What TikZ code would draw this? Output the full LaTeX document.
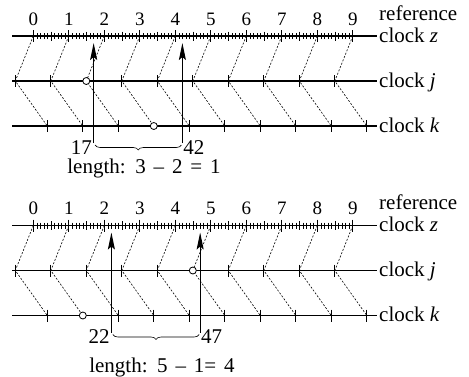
\documentclass[tikz,border=0pt]{standalone}
\usepackage{fontspec}
\setmainfont{Liberation Serif}
\newfontfamily\lenfont[WordSpace=1.5]{Liberation Serif}
\usetikzlibrary{arrows.meta,decorations.pathreplacing}
\tikzset{
  axis/.style={line width=1.1pt},
  majtick/.style={line width=1.1pt},
  mintick/.style={line width=0.6pt},
  guide/.style={line width=0.6pt, dash pattern=on 2pt off 1.6pt},
  readarrow/.style={line width=1.1pt, -{Stealth[length=17pt,width=7pt,inset=3pt]}},
  bracestyle/.style={line width=0.6pt, decorate, decoration={brace, mirror, amplitude=5pt}},
  lab/.style={inner sep=0pt, font=\fontsize{21}{24}\selectfont},
  lenlab/.style={inner sep=0pt, font=\lenfont\fontsize{21}{24}\selectfont},
  numlab/.style={inner sep=0pt, font=\fontsize{19}{22}\selectfont},
  tickcircle/.style={circle, draw, fill=white, line width=0.8pt, minimum size=7pt, inner sep=0pt},
}
% #1 suffix, #2 y offset, #3 circle on j, #4 circle on k, #5 first reading,
% #6 second reading, #7 length text, #8 centre x of length text, #9 its baseline
\newcommand{\clockpanel}[9]{%
\begin{scope}[yshift=-#2pt]
  \coordinate (zs#1) at (12,36);  \coordinate (ze#1) at (377,36);
  \coordinate (js#1) at (12,81);  \coordinate (je#1) at (377,81);
  \coordinate (ks#1) at (12,126); \coordinate (ke#1) at (377,126);
  \draw[axis] (zs#1) -- (ze#1);
  \draw[axis] (js#1) -- (je#1);
  \draw[axis] (ks#1) -- (ke#1);
  \foreach \t in {1,...,89}{
    \pgfmathtruncatemacro{\r}{mod(\t,10)}
    \ifnum\r=5
      \draw[mintick] (33.3+3.55*\t,31.5) -- (33.3+3.55*\t,40.5);
    \else\ifnum\r=0\else
      \draw[mintick] (33.3+3.55*\t,33) -- (33.3+3.55*\t,39);
    \fi\fi
  }
  \foreach \i in {0,...,9}{
    \coordinate (z\i#1) at (33.3+35.5*\i,36);
    \coordinate (j\i#1) at (15.3+35.5*\i,81);
    \coordinate (k\i#1) at (47.3+35.5*\i,126);
    \node[numlab, anchor=base] (n\i#1) at (33.3+35.5*\i,25) {\i};
    \draw[majtick] ([yshift=6pt]z\i#1) -- ([yshift=-6pt]z\i#1);
    \ifnum\i=#3\else \draw[majtick] ([yshift=6pt]j\i#1) -- ([yshift=-6pt]j\i#1);\fi
    \ifnum\i=#4\else \draw[majtick] ([yshift=6pt]k\i#1) -- ([yshift=-6pt]k\i#1);\fi
    \draw[guide] (z\i#1) -- (j\i#1) -- (k\i#1);
  }
  \node[tickcircle] (jc#1) at (j#3#1) {};
  \node[tickcircle] (kc#1) at (k#4#1) {};
  \coordinate (ra#1)  at (33.3+3.55*#5,143);
  \coordinate (rat#1) at (33.3+3.55*#5,43);
  \coordinate (rb#1)  at (33.3+3.55*#6,143);
  \coordinate (rbt#1) at (33.3+3.55*#6,43);
  \draw[readarrow] (ra#1) -- (rat#1);
  \draw[readarrow] (rb#1) -- (rbt#1);
  \node[lab, anchor=base east] (la#1) at ([xshift=-1.5pt,yshift=-11pt]ra#1) {#5};
  \node[lab, anchor=base west] (lb#1) at ([xshift=0.8pt,yshift=-11pt]rb#1) {#6};
  \coordinate (bl#1) at ([xshift=1.5pt,yshift=-2pt]ra#1);
  \coordinate (br#1) at ([xshift=-1pt,yshift=-2pt]rb#1);
  \draw[bracestyle] (bl#1) -- (br#1);
  \node[lenlab, anchor=base] (len#1) at (#8,#9) {#7};
  \node[lab, anchor=base west] (rf#1) at (379,20) {reference};
  \node[lab, anchor=base west] (cz#1) at (379,42) {clock \textit{z}};
  \node[lab, anchor=base west] (cj#1) at (379,87) {clock \textit{j}};
  \node[lab, anchor=base west] (ck#1) at (379,132) {clock \textit{k}};
\end{scope}}
\begin{document}
\begin{tikzpicture}[x=1pt,y=-1pt]
\useasboundingbox (0,0) rectangle (469,376);
\clockpanel{a}{0}{2}{3}{17}{42}{length: 3 – 2 = 1}{144}{173}
\clockpanel{b}{189.5}{5}{1}{22}{47}{length: 5 – 1= 4}{162}{183}
\end{tikzpicture}
\end{document}
